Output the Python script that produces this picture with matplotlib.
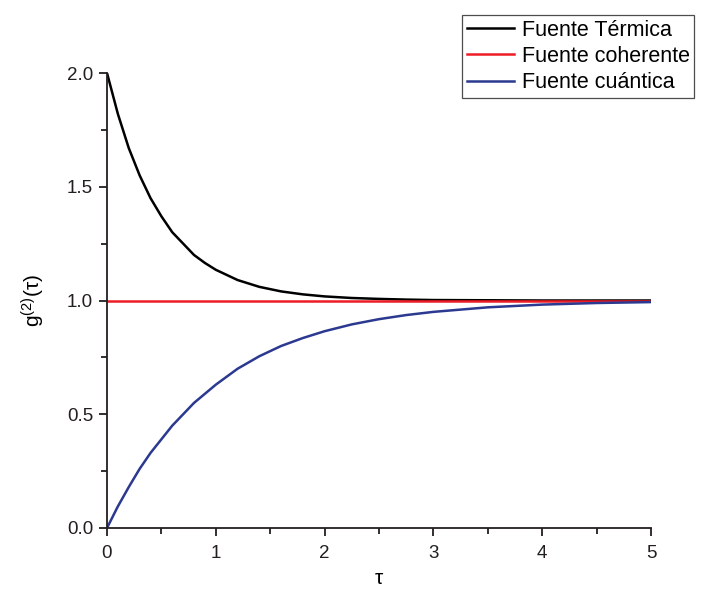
import numpy as np
import matplotlib
matplotlib.use("Agg")
import matplotlib.pyplot as plt
from matplotlib.ticker import MultipleLocator

plt.rcParams['font.family'] = ['Liberation Sans', 'DejaVu Sans']
plt.rcParams['mathtext.fontset'] = 'custom'
plt.rcParams['mathtext.rm'] = 'Liberation Sans'
plt.rcParams['mathtext.it'] = 'Liberation Sans:italic'

# values
tau = [0.0, 0.1, 0.2, 0.3, 0.4, 0.5, 0.6, 0.7, 0.8, 0.9, 1.0, 1.2, 1.4, 1.6,
       1.8, 2.0, 2.25, 2.5, 2.75, 3.0, 3.5, 4.0, 4.5, 5.0]
g_termica = [2.0, 1.82, 1.67, 1.55, 1.45, 1.37, 1.30, 1.25, 1.20, 1.165, 1.135,
             1.09, 1.06, 1.04, 1.027, 1.018, 1.011, 1.007, 1.004, 1.002, 1.001,
             1.0, 1.0, 1.0]
g_coherente = [1.0] * len(tau)
g_cuantica = [0.0, 0.095, 0.18, 0.26, 0.33, 0.39, 0.45, 0.50, 0.55, 0.59, 0.63,
              0.70, 0.755, 0.80, 0.835, 0.865, 0.895, 0.918, 0.936, 0.95, 0.97,
              0.982, 0.989, 0.993]

fig = plt.figure(figsize=(7.01, 5.89), dpi=100)
ax = fig.add_axes([107/701, 61/589, 544/701, 455/589])

ax.plot(tau, g_termica, color='black', lw=1.8, label='Fuente Térmica')
ax.plot(tau, g_coherente, color='#ee1c25', lw=1.8, label='Fuente coherente')
ax.plot(tau, g_cuantica, color='#2b3990', lw=1.8, label='Fuente cuántica')

ax.set_xlim(0, 5)
ax.set_ylim(0, 2.0)
ax.xaxis.set_major_locator(MultipleLocator(1))
ax.xaxis.set_minor_locator(MultipleLocator(0.5))
ax.yaxis.set_major_locator(MultipleLocator(0.5))
ax.yaxis.set_minor_locator(MultipleLocator(0.25))
ax.yaxis.set_major_formatter(plt.FormatStrFormatter('%.1f'))
ax.spines['top'].set_visible(False)
ax.spines['right'].set_visible(False)
for s in ['left', 'bottom']:
    ax.spines[s].set_linewidth(1.3)
    ax.spines[s].set_color('#231f20')
ax.tick_params(which='both', direction='out', width=1.3, colors='#231f20',
               labelsize=13.5)
ax.tick_params(axis='x', which='major', length=6, pad=6)
ax.tick_params(axis='y', which='major', length=6, pad=4)
ax.tick_params(which='minor', length=4)

ax.set_xlabel('τ', fontsize=15, labelpad=5)
ax.set_ylabel('g$^{(2)}$(τ)', fontsize=15, labelpad=14)

leg = ax.legend(loc='upper left', bbox_to_anchor=(462/701, 1 - 15/589),
                bbox_transform=fig.transFigure, fontsize=15.5, frameon=True,
                fancybox=False, edgecolor='#231f20', handlelength=2.2,
                borderpad=0.22, labelspacing=0.24, handletextpad=0.35,
                borderaxespad=0)
leg.get_frame().set_linewidth(0.9)

fig.savefig('out.png', dpi=100)
